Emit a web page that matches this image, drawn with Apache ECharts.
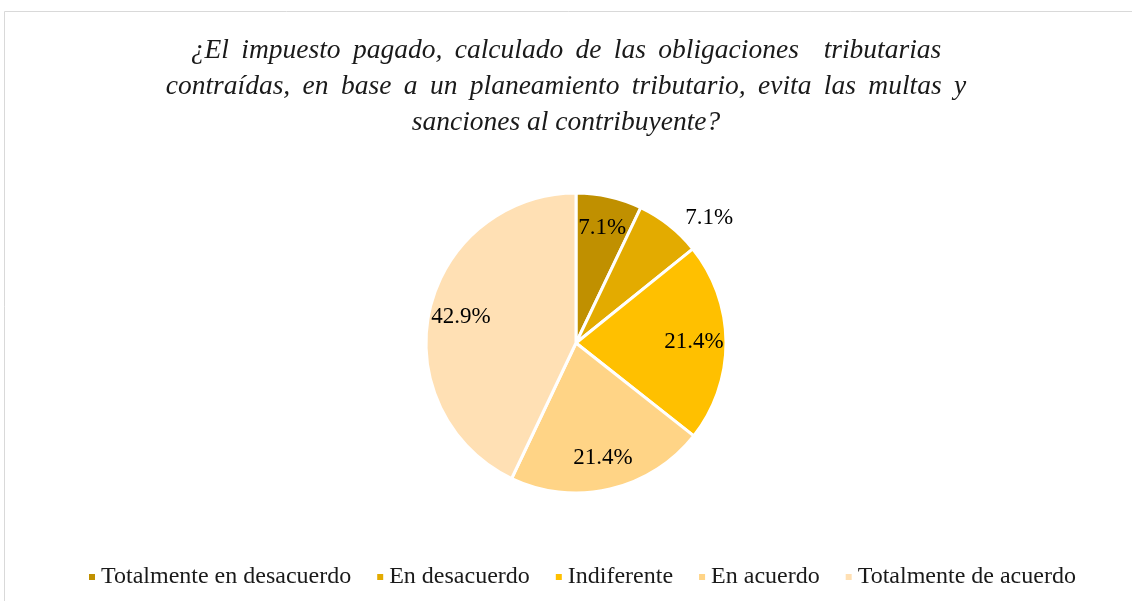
<!DOCTYPE html>
<html>
<head>
<meta charset="utf-8">
<script src="https://cdn.jsdelivr.net/npm/echarts@6/dist/echarts.min.js"></script>
<style>
html,body{margin:0;padding:0;background:#fff;}
#chart{width:1132px;height:601px;}
</style>
</head>
<body>
<div id="chart"></div>
<script>
const titleLines = [
  '¿El impuesto pagado, calculado de las obligaciones  tributarias',
  'contraídas, en base a un planeamiento tributario, evita las multas y',
  'sanciones al contribuyente?'
];
const categories = ['Totalmente en desacuerdo', 'En desacuerdo', 'Indiferente', 'En acuerdo', 'Totalmente de acuerdo'];
const values = [7.1, 7.1, 21.4, 21.4, 42.9];
const colors = ['#C09000', '#E3AB00', '#FFC000', '#FFD486', '#FFE0B4'];
const outsideLabel = [false, true, false, false, false];

const chart = echarts.init(document.getElementById('chart'));
const serif = '"Liberation Serif", "Times New Roman", serif';

// wider word spacing on the first two (justified-looking) lines
const titleText = titleLines.map((l, i) => i < 2 ? l.replace(/ /g, ' \u2009') : l).join('\n');

const mainData = categories.map((c, i) => ({
  name: c, value: values[i],
  itemStyle: { color: colors[i] },
  label: outsideLabel[i] ? { show: true, position: 'outside' } : { show: false },
  labelLine: { show: false, length: 10, length2: 5 }
}));
const overlayData = categories.map((c, i) => ({
  name: c, value: values[i],
  label: { show: !outsideLabel[i] }
}));

chart.setOption({
  backgroundColor: '#fff',
  animation: false,
  graphic: [{
    type: 'rect', shape: { x: 4.5, y: 11.5, width: 1140, height: 620 },
    style: { fill: 'none', stroke: '#d9d9d9', lineWidth: 1 }, silent: true, z: -10
  }],
  title: {
    text: titleText, left: 'center', top: 28,
    textStyle: { fontFamily: serif, fontStyle: 'italic', fontWeight: 'normal', fontSize: 27.5, lineHeight: 36, color: '#1a1a1a' }
  },
  legend: {
    data: categories, top: 560, left: 82,
    icon: 'rect', itemWidth: 8, itemHeight: 8, itemGap: 24,
    textStyle: { fontFamily: serif, fontSize: 24, color: '#1a1a1a' }
  },
  series: [{
    type: 'pie', center: [576, 343], radius: [0, 150],
    startAngle: 90, clockwise: true,
    data: mainData,
    itemStyle: { borderColor: '#fff', borderWidth: 3 },
    label: { formatter: p => p.value.toFixed(1) + '%', fontFamily: serif, fontSize: 23, color: '#000' },
    emphasis: { disabled: true }
  }, {
    type: 'pie', center: [576, 343], radius: [0, 230],
    startAngle: 90, clockwise: true, silent: true,
    data: overlayData,
    itemStyle: { color: 'rgba(0,0,0,0)', borderWidth: 0 },
    label: { position: 'inside', formatter: p => p.value.toFixed(1) + '%', fontFamily: serif, fontSize: 23, color: '#000' },
    labelLine: { show: false },
    emphasis: { disabled: true },
    z: 5
  }]
});
</script>
</body>
</html>
